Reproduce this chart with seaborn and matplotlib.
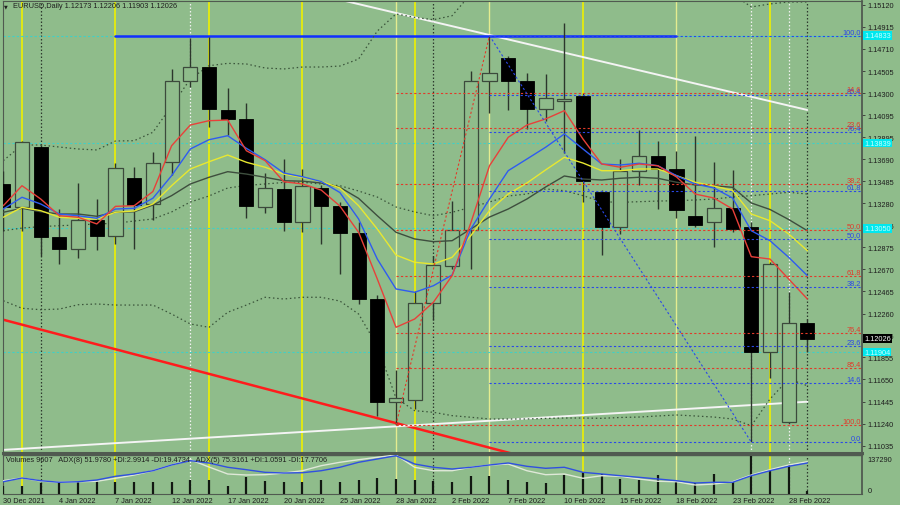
import numpy as np
import pandas as pd
import seaborn as sns
import matplotlib.pyplot as plt
import matplotlib.transforms as mtransforms

# ---- data ----
dates = pd.bdate_range('2021-12-30', '2022-03-01')

opens = [1.13460, 1.13244, 1.13800, 1.12966, 1.12858, 1.13127, 1.12974, 1.13515, 1.13272, 1.13661,
         1.14411, 1.14540, 1.14148, 1.14059, 1.13244, 1.13414, 1.13105, 1.13420, 1.13253, 1.13006,
         1.12395, 1.11444, 1.11463, 1.12355, 1.12703, 1.13037, 1.14411, 1.14624, 1.14411, 1.14154,
         1.14230, 1.14272, 1.13389, 1.13059, 1.13577, 1.13722, 1.13599, 1.13166, 1.13105, 1.13238,
         1.13059, 1.11907, 1.11253, 1.12173]
highs = [1.13580, 1.13861, 1.13821, 1.13228, 1.13466, 1.13321, 1.13650, 1.13615, 1.13753, 1.14525,
         1.14809, 1.14818, 1.14346, 1.14213, 1.13562, 1.13691, 1.13599, 1.13451, 1.13290, 1.13105,
         1.12435, 1.11740, 1.12472, 1.12790, 1.13305, 1.14509, 1.14833, 1.14642, 1.14488, 1.14478,
         1.14951, 1.14302, 1.13400, 1.13691, 1.13963, 1.13861, 1.13768, 1.13902, 1.13666, 1.13592,
         1.13105, 1.12740, 1.12463, 1.12206]
lows = [1.13027, 1.13027, 1.12796, 1.12719, 1.12772, 1.12849, 1.12904, 1.12858, 1.13129, 1.13546,
        1.14355, 1.13985, 1.13914, 1.13148, 1.13187, 1.13027, 1.13013, 1.12904, 1.12627, 1.12349,
        1.11315, 1.11228, 1.11377, 1.12203, 1.12673, 1.12673, 1.14117, 1.14148, 1.13969, 1.14046,
        1.13750, 1.13296, 1.12802, 1.12997, 1.13453, 1.13228, 1.13142, 1.13065, 1.12879, 1.13015,
        1.11070, 1.11661, 1.11240, 1.11903]
closes = [1.13244, 1.13846, 1.12966, 1.12858, 1.13127, 1.12981, 1.13605, 1.13268, 1.13654, 1.14411,
          1.14540, 1.14154, 1.14062, 1.13259, 1.13420, 1.13105, 1.13439, 1.13259, 1.13006, 1.12395,
          1.11439, 1.11476, 1.12355, 1.12710, 1.13034, 1.14414, 1.14488, 1.14411, 1.14154, 1.14253,
          1.14250, 1.13485, 1.13059, 1.13577, 1.13719, 1.13599, 1.13219, 1.13083, 1.13238, 1.13043,
          1.11907, 1.12719, 1.12173, 1.12026]

ma_red = [1.13259, 1.13444, 1.13321, 1.13166, 1.13152, 1.13090, 1.13253, 1.13259, 1.13390, 1.13814,
          1.14006, 1.14046, 1.14052, 1.13768, 1.13676, 1.13481, 1.13460, 1.13404, 1.13256, 1.13013,
          1.12580, 1.12133, 1.12210, 1.12365, 1.12611, 1.13099, 1.13629, 1.13892, 1.14006, 1.14062,
          1.14139, 1.13876, 1.13645, 1.13615, 1.13645, 1.13629, 1.13525, 1.13367, 1.13330, 1.13228,
          1.12787, 1.12765, 1.12580, 1.12395]
ma_blue = [1.13228, 1.13337, 1.13275, 1.13182, 1.13166, 1.13142, 1.13228, 1.13235, 1.13328, 1.13537,
           1.13784, 1.13870, 1.13907, 1.13790, 1.13685, 1.13562, 1.13527, 1.13483, 1.13381, 1.13136,
           1.12765, 1.12488, 1.12457, 1.12518, 1.12617, 1.13043, 1.13321, 1.13583, 1.13691, 1.13800,
           1.13923, 1.13784, 1.13645, 1.13636, 1.13652, 1.13629, 1.13537, 1.13460, 1.13423, 1.13330,
           1.13027, 1.12935, 1.12781, 1.12611]
ma_yellow = [1.13152, 1.13244, 1.13213, 1.13152, 1.13142, 1.13136, 1.13198, 1.13210, 1.13275, 1.13444,
             1.13599, 1.13666, 1.13728, 1.13661, 1.13615, 1.13552, 1.13520, 1.13483, 1.13423, 1.13259,
             1.13043, 1.12802, 1.12735, 1.12719, 1.12781, 1.12981, 1.13213, 1.13367, 1.13469, 1.13590,
             1.13707, 1.13654, 1.13583, 1.13583, 1.13599, 1.13599, 1.13537, 1.13476, 1.13441, 1.13400,
             1.13182, 1.13120, 1.12997, 1.12842]
ma_slow = [1.13198, 1.13235, 1.13203, 1.13182, 1.13182, 1.13161, 1.13198, 1.13203, 1.13265, 1.13352,
           1.13460, 1.13522, 1.13574, 1.13552, 1.13522, 1.13490, 1.13486, 1.13469, 1.13429, 1.13327,
           1.13166, 1.13013, 1.12951, 1.12926, 1.12935, 1.13043, 1.13154, 1.13228, 1.13321, 1.13432,
           1.13534, 1.13506, 1.13497, 1.13513, 1.13522, 1.13513, 1.13476, 1.13451, 1.13444, 1.13429,
           1.13284, 1.13224, 1.13131, 1.13027]
band_upper = [1.13676, 1.13821, 1.13821, 1.13802, 1.13784, 1.13775, 1.13858, 1.13861, 1.13939, 1.14182,
              1.14432, 1.14555, 1.14577, 1.14571, 1.14534, 1.14525, 1.14543, 1.14543, 1.14552, 1.14617,
              1.14876, 1.15034, 1.15003, 1.14981, 1.15018, 1.15219, np.nan, np.nan, np.nan, np.nan,
              np.nan, np.nan, np.nan, np.nan, np.nan, np.nan, np.nan, np.nan, np.nan, 1.15219,
              1.15099, 1.15127, 1.15145, 1.15145]
band_mid = [1.13027, 1.13052, 1.13065, 1.13074, 1.13080, 1.13090, 1.13096, 1.13117, 1.13136, 1.13201,
            1.13293, 1.13349, 1.13423, 1.13446, 1.13460, 1.13474, 1.13476, 1.13460, 1.13444, 1.13395,
            1.13339, 1.13247, 1.13201, 1.13166, 1.13198, 1.13244, 1.13293, 1.13349, 1.13367, 1.13414,
            1.13398, 1.13352, 1.13296, 1.13290, 1.13296, 1.13302, 1.13305, 1.13312, 1.13321, 1.13339,
            1.13352, 1.13367, 1.13383, 1.13367]
band_lower = [1.12379, 1.12309, 1.12296, 1.12302, 1.12342, 1.12349, 1.12339, 1.12339, 1.12339, 1.12256,
              1.12164, 1.12133, 1.12272, 1.12339, 1.12411, 1.12395, 1.12411, 1.12411, 1.12376, 1.12256,
              1.11960, 1.11478, 1.11361, 1.11346, 1.11315, 1.11300, 1.11284, 1.11284, 1.11284, 1.11289,
              1.11293, 1.11293, 1.11290, 1.11298, 1.11302, 1.11312, 1.11321, 1.11312, 1.11302, 1.11284,
              1.11222, 1.11469, 1.11654, 1.11592]

volumes = [29800, 29800, 38400, 44200, 44200, 47700, 42000, 44200, 42000, 44200,
           50300, 50300, 29800, 60000, 46700, 44200, 44200, 50300, 42000, 50300,
           57400, 53900, 50300, 47700, 42000, 65700, 65700, 51300, 44200, 39500,
           68200, 77900, 71800, 53900, 50300, 68200, 47700, 39500, 71800, 42000,
           137290, 83600, 104100, 9607]
adx_blue = [31.5, 41.0, 34.1, 30.0, 31.5, 35.9, 45.4, 51.3, 59.7, 74.4,
            85.4, 79.5, 68.5, 62.3, 55.6, 53.8, 54.6, 59.7, 68.5, 81.3,
            89.7, 98.2, 76.9, 68.5, 64.1, 68.5, 74.4, 79.5, 71.0, 65.9,
            68.5, 55.6, 51.3, 46.9, 42.8, 38.5, 34.1, 28.2, 30.0, 30.0,
            46.9, 59.7, 71.0, 79.5]
adx_white = [34.1, 41.0, 33.3, 30.0, 31.5, 32.6, 40.3, 48.7, 59.7, 74.4,
             87.9, 69.2, 51.3, 48.7, 49.5, 53.8, 59.7, 72.6, 81.3, 87.9,
             94.1, 100.0, 68.5, 59.7, 59.7, 68.5, 74.4, 76.9, 59.7, 49.5,
             51.3, 40.3, 46.9, 45.4, 38.5, 32.6, 31.5, 23.1, 25.6, 31.5,
             48.7, 62.3, 74.4, 82.8]

price_ticks = [1.15120, 1.14915, 1.14710, 1.14505, 1.14300, 1.14095, 1.13895, 1.13690, 1.13485,
               1.13280, 1.13075, 1.12875, 1.12670, 1.12465, 1.12260, 1.12055, 1.11855, 1.11650,
               1.11445, 1.11240, 1.11035]
teal_levels = [1.14833, 1.13839, 1.13050, 1.11904]

fib_ratios = [0.0, 0.146, 0.236, 0.382, 0.5, 0.618, 0.764, 0.854, 1.0]
fib_high = 1.14833
fib_red_low, fib_red_start = 1.11228, 21
fib_blue_low, fib_blue_start, fib_blue_end = 1.11070, 26, 40

white_top = ([18.3, 43], [1.15154, 1.14145])
white_low = ([0, 43], [1.10998, 1.11444])
red_trend = ([0, 27.5], [1.12203, 1.10950])
blue_line = ([6, 36], [1.14833, 1.14833])

yellow_bright = [1, 6, 11, 16, 22, 31, 41]
yellow_pale = [21, 26, 36]
month_marks = [2, 23, 43]
white_marks = [10, 40, 42]

# ---- style ----
BG = '#8fbc8b'
sns.set_theme(style='white')
plt.rcParams['font.family'] = ['Liberation Sans', 'DejaVu Sans']
FS = 5.3
TXT = '#1e1e1e'

x = np.arange(len(dates))
df = pd.DataFrame({'x': x, 'o': opens, 'h': highs, 'l': lows, 'c': closes})
up = df.c >= df.o
XL = (-0.016, 45.92)

fig = plt.figure(figsize=(9, 5.06), dpi=100, facecolor=BG)
ax = fig.add_axes([3 / 900, 1 - 454 / 506, 859 / 900, 452 / 506], facecolor=BG)
axv = fig.add_axes([3 / 900, 1 - 495 / 506, 859 / 900, 39 / 506], facecolor=BG)
axa = fig.add_axes([3 / 900, 1 - 495 / 506, 859 / 900, 39 / 506], facecolor='none')

for a in (ax, axv, axa):
    a.set_xlim(*XL)
ax.set_ylim(1.109691, 1.151543)
axv.set_ylim(0, 140000)
axa.set_ylim(0, 100)

# vertical separators
for a in (ax, axv):
    for b in yellow_bright:
        a.axvline(b, color='#eef000', lw=1.2, zorder=1)
    for b in yellow_pale:
        a.axvline(b, color='#e4ec90', lw=1.0, zorder=1)
    for b in month_marks:
        a.axvline(b, color='#2e3a2e', lw=0.9, ls=(0, (1.2, 1.6)), zorder=1)
    for b in white_marks:
        a.axvline(b, color='#f2f2f2', lw=0.9, ls=(0, (1.2, 1.6)), zorder=1)

# teal level lines
for lv in teal_levels:
    ax.axhline(lv, color='#3fd0c8', lw=0.8, ls=(0, (2, 2)), zorder=1.5)

# trend lines
ax.plot(*red_trend, color='#ff1c1c', lw=1.8, zorder=2)
ax.plot(*white_low, color='#f4f4f4', lw=1.4, zorder=2)
ax.plot(*white_top, color='#f4f4f4', lw=1.4, zorder=2)
ax.plot(*blue_line, color='#1030ff', lw=1.8, zorder=2)

# dotted bands
for band in (band_upper, band_mid, band_lower):
    ax.plot(x, band, color='#3a543a', lw=0.9, ls=(0, (1.2, 2.2)), zorder=2.5)

# candles
ax.vlines(df.x, df.l, df.h, color='#2c362c', lw=1.0, zorder=3)
ax.bar(df.x[up], (df.c - df.o)[up], bottom=df.o[up], width=0.75,
       facecolor=BG, edgecolor='#3c4a3c', lw=0.9, zorder=4)
ax.bar(df.x[~up], (df.o - df.c)[~up], bottom=df.c[~up], width=0.75,
       facecolor='black', edgecolor='black', lw=0.6, zorder=4)

# moving averages
for series, col in ((ma_slow, '#3e4e3e'), (ma_yellow, '#e8e830'), (ma_blue, '#2f5cf0'), (ma_red, '#e8403a')):
    sns.lineplot(x=x, y=series, ax=ax, color=col, lw=1.0, legend=False, zorder=5)

# fibonacci grids
xr = XL[1]
lbl_tr = mtransforms.blended_transform_factory(ax.transAxes, ax.transData)
for r in fib_ratios:
    pb = fib_blue_low + r * (fib_high - fib_blue_low)
    ax.hlines(pb, fib_blue_start, xr, color='#2a48e8', lw=0.8, ls=(0, (2, 2)), zorder=6)
    ax.text(0.9985, pb, f'{r * 100:.1f}', transform=lbl_tr, ha='right', va='bottom',
            fontsize=FS, color='#2a48e8', zorder=7)
for r in fib_ratios[1:]:
    pr = fib_high - r * (fib_high - fib_red_low)
    ax.hlines(pr, fib_red_start, xr, color='#e23a2a', lw=0.8, ls=(0, (2, 2)), zorder=6)
    ax.text(0.9985, pr, f'{r * 100:.1f}', transform=lbl_tr, ha='right', va='bottom',
            fontsize=FS, color='#e23a2a', zorder=7)
ax.plot([fib_red_start, fib_blue_start], [fib_red_low, fib_high], color='#e23a2a', lw=0.8,
        ls=(0, (2, 2)), zorder=6)
ax.plot([fib_blue_start, fib_blue_end], [fib_high, fib_blue_low], color='#2a48e8', lw=0.8,
        ls=(0, (2, 2)), zorder=6)

# right price axis
ax.yaxis.tick_right()
ax.set_yticks(price_ticks)
ax.set_yticklabels([f'{t:.5f}' for t in price_ticks])
ax.tick_params(axis='y', right=True, length=2, width=0.6, color='#333', pad=2,
               labelsize=FS, labelcolor=TXT)
ax.set_xticks([])
for lv in teal_levels:
    ax.text(1.0025, lv, f'{lv:.5f}', transform=lbl_tr, ha='left', va='center', fontsize=FS,
            color='#c8ffff', zorder=8, clip_on=False,
            bbox=dict(boxstyle='square,pad=0.12', fc='#00e8ee', ec='none'))
ax.text(1.0025, closes[-1], f'{closes[-1]:.5f}', transform=lbl_tr, ha='left', va='center',
        fontsize=FS, color='white', zorder=8, clip_on=False,
        bbox=dict(boxstyle='square,pad=0.12', fc='black', ec='none'))

# volume + ADX panel
axv.vlines(x, 0, volumes, color='#121812', lw=1.6, zorder=3)
sns.lineplot(x=x, y=adx_white, ax=axa, color='#dfe8d8', lw=1.0, legend=False)
sns.lineplot(x=x, y=adx_blue, ax=axa, color='#3050e0', lw=1.0, legend=False)
axa.axis('off')

axv.yaxis.tick_right()
axv.set_yticks([0, 137290])
axv.set_yticklabels(['0', '137290'])
vl = axv.get_yticklabels()
vl[0].set_va('bottom')
vl[1].set_va('top')
axv.tick_params(axis='y', length=0, pad=4, labelsize=FS, labelcolor=TXT)

tick_idx = x[::3]
axv.set_xticks(tick_idx)
axv.set_xticklabels([f'{d.day} {d:%b %Y}' for d in dates[::3]], ha='left')
axv.tick_params(axis='x', length=0, pad=2.2, labelsize=FS, labelcolor=TXT)

# frames
for a in (ax, axv):
    for s in a.spines.values():
        s.set_color('#505a50')
        s.set_linewidth(0.8)
    a.spines['right'].set_linewidth(1.3)
ax.spines['bottom'].set_linewidth(2.2)
axv.spines['top'].set_linewidth(1.0)
ax.set_xlabel('')
ax.set_ylabel('')
axv.set_ylabel('')
axa.set_ylabel('')

# header texts
fig.text(4 / 900, 1 - 7 / 506, '\u25bc', fontsize=3.5, color=TXT, va='center',
         family=['DejaVu Sans'])
fig.text(13 / 900, 1 - 7 / 506, 'EURUSD,Daily 1.12173 1.12206 1.11903 1.12026', fontsize=FS,
         color=TXT, va='center')
fig.text(6 / 900, 1 - 461 / 506,
         'Volumes 9607   ADX(8) 51.9780 +DI:2.9914 -DI:19.4734   ADX(5) 75.3161 +DI:1.0591 -DI:17.7706',
         fontsize=FS, color=TXT, va='center')

fig.savefig('out.png', dpi=100, facecolor=BG)
